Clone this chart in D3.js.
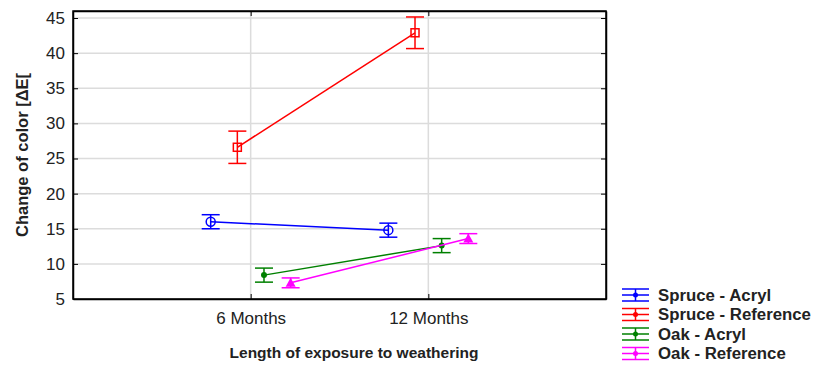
<!DOCTYPE html>
<html><head><meta charset="utf-8">
<script src="https://cdn.jsdelivr.net/npm/d3@7"></script>
<style>body{margin:0;background:#fff}svg{display:block}</style>
</head><body>
<svg id="c" width="814" height="367"></svg>
<script>
const categories = ["6 Months", "12 Months"];
const seriesNames = ["Spruce - Acryl", "Spruce - Reference", "Oak - Acryl", "Oak - Reference"];
const seriesColors = ["#0000ff", "#ff0000", "#008000", "#ff00ff"];
const seriesMarkers = ["circle", "square", "dot", "triangle"];
const spruceAcrylMean = [16.0, 14.8];
const spruceAcrylErr = [1.0, 1.0];
const spruceRefMean = [26.6, 42.9];
const spruceRefErr = [2.3, 2.25];
const oakAcrylMean = [8.4, 12.6];
const oakAcrylErr = [1.0, 1.0];
const oakRefMean = [7.3, 13.6];
const oakRefErr = [0.7, 0.7];
const seriesOffsets = [-0.225, -0.075, 0.075, 0.225];
const yTicks = [5, 10, 15, 20, 25, 30, 35, 40, 45];

const means = [spruceAcrylMean, spruceRefMean, oakAcrylMean, oakRefMean];
const errs = [spruceAcrylErr, spruceRefErr, oakAcrylErr, oakRefErr];

const svg = d3.select("#c");
const L = 73, R = 606, T = 11, B = 299;
const x = d3.scaleLinear().domain([0, 3]).range([L, R]);
const y = d3.scaleLinear().domain([5, 46]).range([B, T]);
const catPos = categories.map((c, i) => i + 1);

// grid
const g = svg.append("g");
g.selectAll(".gy").data(yTicks).join("line")
  .attr("x1", L).attr("x2", R).attr("y1", d => y(d)).attr("y2", d => y(d))
  .attr("stroke", "#dcdcdc").attr("stroke-width", 1.5);
g.selectAll(".gx").data(catPos).join("line")
  .attr("x1", d => x(d)).attr("x2", d => x(d)).attr("y1", T).attr("y2", B)
  .attr("stroke", "#dcdcdc").attr("stroke-width", 1.5);

// axes
const fontTick = "Liberation Sans, Arial, sans-serif";
const yAxis = d3.axisLeft(y).tickValues(yTicks).tickSizeInner(-5).tickSizeOuter(0).tickPadding(8);
const ya = svg.append("g").attr("transform", `translate(${L},0)`).call(yAxis);
ya.selectAll("text").attr("font-family", fontTick).attr("font-size", 17).attr("fill", "#222");
const yAxisR = d3.axisRight(y).tickValues(yTicks).tickSizeInner(-5).tickSizeOuter(0).tickFormat("");
svg.append("g").attr("transform", `translate(${R},0)`).call(yAxisR);
const xAxis = d3.axisBottom(x).tickValues(catPos).tickFormat((d, i) => categories[i]).tickSizeInner(-5).tickSizeOuter(0).tickPadding(13);
const xa = svg.append("g").attr("transform", `translate(0,${B})`).call(xAxis);
xa.selectAll("text").attr("font-family", fontTick).attr("font-size", 17).attr("fill", "#222");
const xAxisT = d3.axisTop(x).tickValues(catPos).tickFormat("").tickSizeInner(-5).tickSizeOuter(0);
svg.append("g").attr("transform", `translate(0,${T})`).call(xAxisT);
svg.selectAll(".domain").attr("stroke", "#000").attr("stroke-width", 1.5);
svg.selectAll(".tick line").attr("stroke", "#000");
svg.append("rect").attr("x", L).attr("y", T).attr("width", R - L).attr("height", B - T)
  .attr("fill", "none").attr("stroke", "#000").attr("stroke-width", 1.5);

// titles
svg.append("text").attr("x", 354).attr("y", 358).attr("text-anchor", "middle")
  .attr("font-family", fontTick).attr("font-weight", "bold").attr("font-size", 15.5).attr("fill", "#222")
  .text("Length of exposure to weathering");
svg.append("text").attr("transform", `translate(28,${(T + B) / 2}) rotate(-90)`).attr("text-anchor", "middle")
  .attr("font-family", fontTick).attr("font-weight", "bold").attr("font-size", 16.5).attr("fill", "#222")
  .text("Change of color [ΔE[");

function marker(sel, type, color, cx, cy, scale) {
  scale = scale || 1;
  if (type === "circle") {
    sel.append("circle").attr("cx", cx).attr("cy", cy).attr("r", 4.5 * scale)
      .attr("fill", "none").attr("stroke", color).attr("stroke-width", 1.5);
  } else if (type === "square") {
    sel.append("rect").attr("x", cx - 4 * scale).attr("y", cy - 4 * scale).attr("width", 8 * scale).attr("height", 8 * scale)
      .attr("fill", "none").attr("stroke", color).attr("stroke-width", 1.5);
  } else if (type === "dot") {
    sel.append("circle").attr("cx", cx).attr("cy", cy).attr("r", 3 * scale).attr("fill", color);
  } else {
    const s = 5 * scale;
    sel.append("path").attr("d", `M${cx},${cy - s}L${cx + s},${cy + s * 0.8}L${cx - s},${cy + s * 0.8}Z`).attr("fill", color);
  }
}

// series
means.forEach((m, si) => {
  const col = seriesColors[si];
  const gs = svg.append("g");
  const pts = m.map((v, i) => [x(catPos[i] + seriesOffsets[si]), y(v)]);
  gs.append("path").attr("d", d3.line()(pts)).attr("fill", "none").attr("stroke", col).attr("stroke-width", 1.5);
  m.forEach((v, i) => {
    const cx = x(catPos[i] + seriesOffsets[si]);
    const e = errs[si][i];
    const y1 = y(v + e), y2 = y(v - e);
    gs.append("line").attr("x1", cx).attr("x2", cx).attr("y1", y1).attr("y2", y2).attr("stroke", col).attr("stroke-width", 1.5);
    [y1, y2].forEach(yy => gs.append("line").attr("x1", cx - 9).attr("x2", cx + 9).attr("y1", yy).attr("y2", yy).attr("stroke", col).attr("stroke-width", 1.5));
    marker(gs, seriesMarkers[si], col, cx, y(v));
  });
});

// legend
const lg = svg.append("g");
seriesNames.forEach((n, i) => {
  const cy = 295 + i * 19.5;
  const col = seriesColors[i];
  const x0 = 622, x1 = 649, xm = (x0 + x1) / 2;
  lg.append("line").attr("x1", x0).attr("x2", x1).attr("y1", cy - 6).attr("y2", cy - 6).attr("stroke", col).attr("stroke-width", 1.5);
  lg.append("line").attr("x1", x0).attr("x2", x1).attr("y1", cy + 6).attr("y2", cy + 6).attr("stroke", col).attr("stroke-width", 1.5);
  lg.append("line").attr("x1", xm).attr("x2", xm).attr("y1", cy - 6).attr("y2", cy + 6).attr("stroke", col).attr("stroke-width", 1.5);
  lg.append("line").attr("x1", x0).attr("x2", x1).attr("y1", cy).attr("y2", cy).attr("stroke", col).attr("stroke-width", 1.5);
  lg.append("circle").attr("cx", xm).attr("cy", cy).attr("r", 2.5).attr("fill", col);
  lg.append("text").attr("x", 658).attr("y", cy).attr("dy", "0.35em")
    .attr("font-family", fontTick).attr("font-weight", "bold").attr("font-size", 16.8).attr("fill", "#222").text(n);
});
</script>
</body></html>
